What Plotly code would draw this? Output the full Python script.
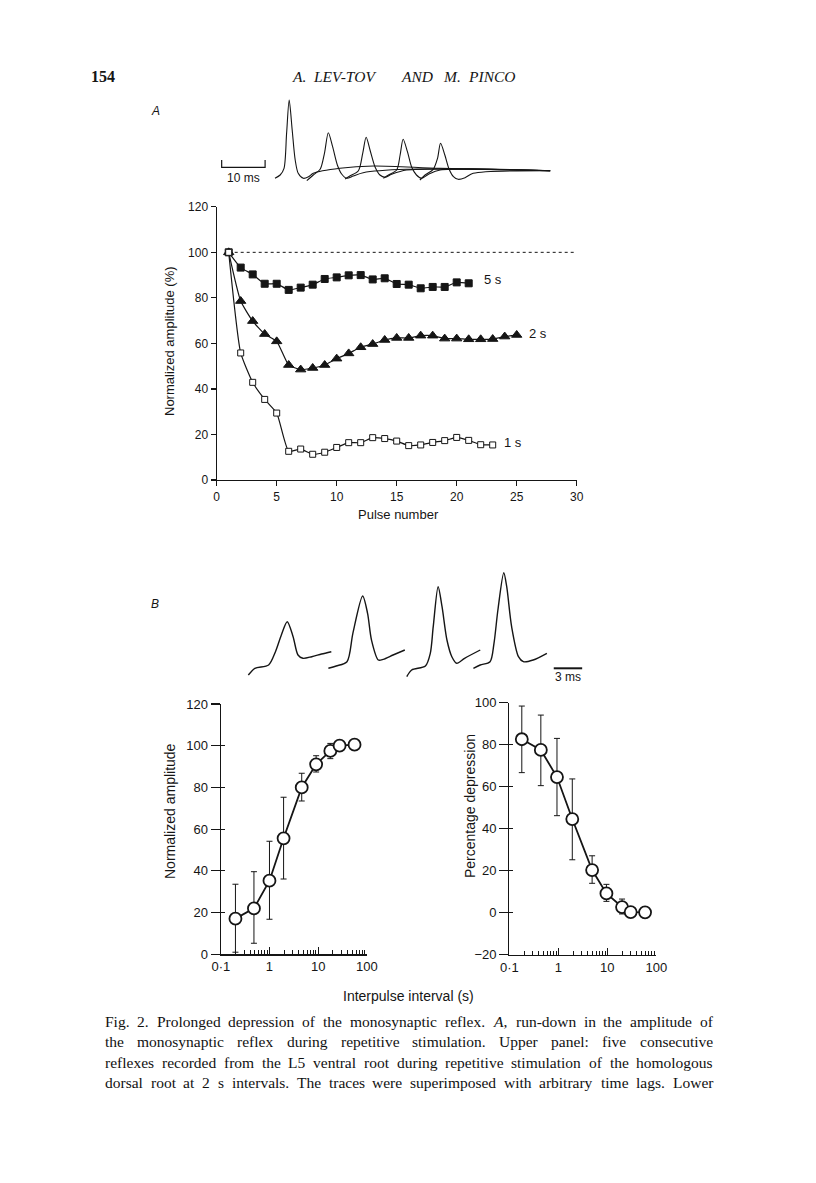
import plotly.graph_objects as go

W, H = 816, 1183

# ---------------- Panel A data (pulse number vs normalized amplitude %) ----------------
pulse_5s = list(range(1, 22))
amp_5s = [100, 93.3, 90.3, 86.2, 86.2, 83.5, 84.5, 85.8, 88.3, 89.0, 89.9, 90.0,
          88.1, 88.6, 86.1, 85.8, 84.2, 84.8, 84.8, 86.8, 86.4]
pulse_2s = list(range(1, 26))
amp_2s = [100, 78.6, 69.8, 64.1, 60.9, 50.5, 48.5, 49.2, 50.5, 53.3, 55.6, 58.3,
          59.7, 61.5, 62.4, 62.4, 63.4, 63.4, 62.1, 62.1, 61.8, 61.8, 61.9, 63.0, 63.7]
pulse_1s = list(range(1, 24))
amp_1s = [100, 55.8, 42.9, 35.4, 29.4, 12.6, 13.6, 11.3, 12.2, 14.3, 16.4, 16.4,
          18.6, 18.2, 17.1, 15.1, 15.4, 16.5, 17.3, 18.7, 17.4, 15.5, 15.4]
ref_level = 100
ref_span = [1, 30]
a_xticks = [0, 5, 10, 15, 20, 25, 30]
a_yticks = [0, 20, 40, 60, 80, 100, 120]
series_labels = ["5 s", "2 s", "1 s"]
series_label_x = [23.05, 26.8, 24.7]
series_label_y = [88.1, 64.4, 16.6]

# ---------------- Panel B data (interpulse interval) ----------------
interval_left = [0.2, 0.48, 1.0, 1.95, 4.6, 9.1, 17.8, 27.6, 56]
amp_left = [17.1, 22.0, 35.3, 55.6, 80.0, 91.1, 97.5, 100.0, 100.5]
amp_left_hi = [33.6, 39.6, 54.2, 75.3, 86.8, 95.2, 101.1, 100.0, 100.5]
amp_left_lo = [1.0, 5.3, 16.8, 36.1, 73.5, 87.4, 93.8, 100.0, 100.5]

interval_right = [0.18, 0.44, 0.94, 1.93, 4.9, 9.6, 20, 30, 59]
dep_right = [82.6, 77.5, 64.6, 44.6, 20.3, 9.2, 2.7, 0.3, 0.2]
dep_hi = [98.4, 94.1, 83.0, 63.7, 27.1, 13.5, 6.5, 0.3, 0.2]
dep_lo = [66.7, 60.5, 46.2, 25.2, 14.0, 5.4, -0.6, 0.3, 0.2]

b_xticks = [0.1, 1, 10, 100]
b_xticklabels = ["0·1", "1", "10", "100"]
b_minor = [0.2, 0.3, 0.4, 0.5, 0.6, 0.7, 0.8, 0.9, 2, 3, 4, 5, 6, 7, 8, 9,
           20, 30, 40, 50, 60, 70, 80, 90]
b_left_yticks = [0, 20, 40, 60, 80, 100, 120]
b_right_yticks = [-20, 0, 20, 40, 60, 80, 100]
b_right_yticklabels = ["−20", "0", "20", "40", "60", "80", "100"]

# ---------------- Recorded traces (ms, arbitrary amplitude units) ----------------
trace_a_t = [
    [0.0, 1.2, 2.1, 2.7, 3.3, 4.0, 4.7, 5.4, 6.6, 7.8, 8.9, 15.1, 22.9, 38.4, 64.0],
    [7.4, 8.9, 10.5, 11.5, 12.4, 13.4, 14.5, 15.5, 16.7, 18.2, 20.5, 30.6, 64.0],
    [16.3, 17.4, 19.4, 20.4, 21.2, 22.1, 23.3, 24.4, 25.6, 27.1, 30.6, 64.0],
    [25.2, 26.4, 28.3, 29.1, 29.8, 30.8, 31.8, 32.9, 34.1, 35.7, 38.4, 64.0],
    [33.7, 34.9, 36.8, 37.8, 38.5, 39.5, 40.5, 41.5, 42.6, 44.2, 46.1, 64.0],
]
trace_a_v = [
    [1.7, 5.0, 11.7, 46.7, 80.0, 50.0, 20.0, 6.7, 1.7, 3.3, 6.7, 11.7, 14.0, 11.7, 9.3],
    [-0.7, 5.0, 10.7, 26.7, 47.3, 33.3, 15.0, 6.0, 1.7, 4.0, 7.3, 10.7, 9.3],
    [1.0, 4.0, 9.3, 26.7, 42.7, 30.0, 12.7, 5.0, 2.7, 5.7, 10.0, 9.3],
    [1.7, 5.0, 10.0, 25.0, 40.7, 28.3, 12.7, 5.0, 1.7, 5.7, 10.0, 9.3],
    [0.0, 5.0, 10.7, 21.7, 36.7, 25.0, 10.7, 3.3, 0.7, 2.3, 6.7, 9.3],
]
scale_a_ms = [-12.4, -2.3]      # 10 ms
scale_a_level = [20.0, 12.7]

trace_b_t = [
    [0.03, 0.7, 2.1, 2.8, 3.4, 4.0, 4.6, 5.1, 5.6, 6.5, 7.5, 8.5],
    [8.2, 9.0, 10.1, 10.7, 11.7, 12.2, 12.6, 13.3, 13.8, 14.8, 16.0],
    [16.2, 16.7, 18.1, 18.6, 18.9, 19.4, 19.8, 20.3, 20.8, 21.3, 22.1, 23.7],
    [23.0, 23.7, 24.7, 25.1, 25.5, 26.1, 26.4, 26.9, 27.6, 28.1, 29.1, 30.5],
]
trace_b_v = [
    [5.0, 11.7, 15.0, 28.3, 45.0, 58.3, 43.3, 25.0, 21.7, 23.3, 26.0, 28.3],
    [11.7, 14.0, 18.3, 46.7, 84.0, 66.7, 40.0, 20.0, 20.7, 25.0, 30.0],
    [3.3, 10.0, 14.0, 26.7, 53.3, 93.3, 73.3, 40.0, 23.3, 16.7, 21.7, 30.0],
    [11.7, 15.0, 18.3, 36.7, 70.0, 107.3, 93.3, 53.3, 23.3, 18.3, 20.0, 26.7],
]
scale_b_ms = [31.2, 34.1]       # 3 ms
scale_b_level = 11.7

# ---------------- Text ----------------
header_page = "154"
header_words = ["A.", "LEV-TOV", "AND", "M.", "PINCO"]
header_word_px = [291, 312, 400, 442, 467]
caption_lines = [
    "Fig. 2. Prolonged depression of the monosynaptic reflex. <i>A</i>, run-down in the amplitude of",
    "the monosynaptic reflex during repetitive stimulation. Upper panel: five consecutive",
    "reflexes recorded from the L5 ventral root during repetitive stimulation of the homologous",
    "dorsal root at 2 s intervals. The traces were superimposed with arbitrary time lags. Lower",
]
caption_y_px = [1021, 1041.5, 1062, 1082]
caption_x0, caption_x1 = 104, 712

SANS = "Liberation Sans, Arial, Helvetica, sans-serif"
SERIF = "Liberation Serif, Times New Roman, serif"
INK = "#151515"


def fx(px):
    return px / W


def fy(py):
    return 1 - py / H


fig = go.Figure()

# ---- Panel A plot ----
fig.add_trace(go.Scatter(x=ref_span, y=[ref_level, ref_level], mode="lines",
                         line=dict(color=INK, width=1, dash="dot"),
                         xaxis="x", yaxis="y", hoverinfo="skip"))
a_series = [
    (pulse_5s, amp_5s, "square", 7, INK),
    (pulse_2s, amp_2s, "triangle-up", 9, INK),
    (pulse_1s, amp_1s, "square", 6, "white"),
]
for xs, ys, sym, sz, fill in a_series:
    fig.add_trace(go.Scatter(
        x=xs, y=ys, mode="lines+markers",
        line=dict(color=INK, width=1.2, shape="spline", smoothing=0.5),
        marker=dict(symbol=sym, size=sz, color=fill, line=dict(color=INK, width=1)),
        xaxis="x", yaxis="y", cliponaxis=False))

# ---- Panel B plots ----
fig.add_trace(go.Scatter(
    x=interval_left, y=amp_left, mode="lines+markers",
    line=dict(color=INK, width=1.8),
    marker=dict(symbol="circle", size=12, color="white", line=dict(color=INK, width=1.8)),
    error_y=dict(type="data", symmetric=False,
                 array=[h - m for h, m in zip(amp_left_hi, amp_left)],
                 arrayminus=[m - l for m, l in zip(amp_left, amp_left_lo)],
                 color=INK, thickness=1, width=3),
    xaxis="x2", yaxis="y2", cliponaxis=False))
fig.add_trace(go.Scatter(
    x=interval_right, y=dep_right, mode="lines+markers",
    line=dict(color=INK, width=1.8),
    marker=dict(symbol="circle", size=12, color="white", line=dict(color=INK, width=1.8)),
    error_y=dict(type="data", symmetric=False,
                 array=[h - m for h, m in zip(dep_hi, dep_right)],
                 arrayminus=[m - l for m, l in zip(dep_right, dep_lo)],
                 color=INK, thickness=1, width=3),
    xaxis="x3", yaxis="y3", cliponaxis=False))
# empty traces so the tick-overlay axes are drawn
fig.add_trace(go.Scatter(x=[], y=[], xaxis="x2", yaxis="y6", hoverinfo="skip"))
fig.add_trace(go.Scatter(x=[], y=[], xaxis="x3", yaxis="y7", hoverinfo="skip"))

# ---- Recorded traces A ----
for ts, vs in zip(trace_a_t, trace_a_v):
    fig.add_trace(go.Scatter(x=ts, y=vs, mode="lines",
                             line=dict(color=INK, width=1.1, shape="spline", smoothing=0.8),
                             xaxis="x4", yaxis="y4", hoverinfo="skip"))
fig.add_trace(go.Scatter(
    x=[scale_a_ms[0], scale_a_ms[0], scale_a_ms[1], scale_a_ms[1]],
    y=[scale_a_level[0], scale_a_level[1], scale_a_level[1], scale_a_level[0]],
    mode="lines", line=dict(color=INK, width=1.2), xaxis="x4", yaxis="y4"))

# ---- Recorded traces B ----
for ts, vs in zip(trace_b_t, trace_b_v):
    fig.add_trace(go.Scatter(x=ts, y=vs, mode="lines",
                             line=dict(color=INK, width=1.4, shape="spline", smoothing=0.8),
                             xaxis="x5", yaxis="y5", hoverinfo="skip"))
fig.add_trace(go.Scatter(x=scale_b_ms, y=[scale_b_level, scale_b_level], mode="lines",
                         line=dict(color=INK, width=2), xaxis="x5", yaxis="y5"))

axis_common = dict(showgrid=False, zeroline=False, showline=True, linecolor=INK,
                   linewidth=1.2, tickcolor=INK, tickwidth=1.2, color=INK,
                   automargin=False)

layout = dict(
    template="none",
    width=W, height=H, showlegend=False, autosize=False,
    margin=dict(l=0, r=0, t=0, b=0, pad=0, autoexpand=False),
    paper_bgcolor="white", plot_bgcolor="rgba(0,0,0,0)",
    font=dict(family=SANS, color=INK),
    xaxis=dict(domain=[fx(216.7), fx(576.7)], range=[0, 30], anchor="y",
               tickmode="array", tickvals=a_xticks, ticks="outside", ticklen=5,
               tickfont=dict(size=12), **axis_common),
    yaxis=dict(domain=[fy(480), fy(206.8)], range=[0, 120], anchor="x",
               tickmode="array", tickvals=a_yticks, ticks="outside", ticklen=5,
               tickfont=dict(size=12), **axis_common),
    xaxis2=dict(type="log", domain=[fx(220.8), fx(366.8)], range=[-1, 2], anchor="y2",
                tickmode="array", tickvals=b_xticks, ticktext=b_xticklabels,
                ticks="inside", ticklen=7, tickfont=dict(size=13),
                minor=dict(tickmode="array", tickvals=b_minor, ticks="inside",
                           ticklen=4, tickcolor=INK, tickwidth=1, showgrid=False),
                **axis_common),
    yaxis2=dict(domain=[fy(954.3), fy(704)], range=[0, 120], anchor="x2",
                tickmode="array", tickvals=b_left_yticks, ticks="outside", ticklen=9,
                tickfont=dict(size=13), **axis_common),
    yaxis6=dict(overlaying="y2", anchor="x2", range=[0, 120], tickmode="array",
                tickvals=b_left_yticks, ticks="inside", ticklen=4, tickcolor=INK,
                tickwidth=1.2, showticklabels=False, showline=False, showgrid=False,
                zeroline=False, automargin=False),
    xaxis3=dict(type="log", domain=[fx(509.3), fx(656.3)], range=[-1, 2], anchor="y3",
                tickmode="array", tickvals=b_xticks, ticktext=b_xticklabels,
                ticks="inside", ticklen=7, tickfont=dict(size=13),
                minor=dict(tickmode="array", tickvals=b_minor, ticks="inside",
                           ticklen=4, tickcolor=INK, tickwidth=1, showgrid=False),
                **axis_common),
    yaxis3=dict(domain=[fy(954.7), fy(702.7)], range=[-20, 100], anchor="x3",
                tickmode="array", tickvals=b_right_yticks, ticktext=b_right_yticklabels,
                ticks="outside", ticklen=9, tickfont=dict(size=13), **axis_common),
    yaxis7=dict(overlaying="y3", anchor="x3", range=[-20, 100], tickmode="array",
                tickvals=b_right_yticks, ticks="inside", ticklen=4, tickcolor=INK,
                tickwidth=1.2, showticklabels=False, showline=False, showgrid=False,
                zeroline=False, automargin=False),
    xaxis4=dict(domain=[fx(200), fx(590)], range=[-17.44, 73.26], visible=False,
                anchor="y4", automargin=False),
    yaxis4=dict(domain=[fy(190), fy(90)], range=[-10, 90], visible=False, anchor="x4",
                automargin=False),
    xaxis5=dict(domain=[fx(230), fx(600)], range=[-1.84, 35.92], visible=False,
                anchor="y5", automargin=False),
    yaxis5=dict(domain=[fy(690), fy(560)], range=[-10, 120], visible=False, anchor="x5",
                automargin=False),
)

ann = []


def add_text(text, px, py, size, family=SANS, angle=0, xanchor="center", italic=False,
             bold=False):
    ann.append(dict(text=text, x=fx(px), y=fy(py), xref="paper", yref="paper",
                    showarrow=False, textangle=angle, xanchor=xanchor, yanchor="middle",
                    borderpad=0,
                    font=dict(size=size, family=family, color=INK,
                              style="italic" if italic else "normal",
                              weight="bold" if bold else "normal")))


# axis titles and panel labels
add_text("Normalized amplitude (%)", 170, 341, 13, angle=-90)
add_text("Pulse number", 398, 515, 13)
add_text("Normalized amplitude", 170, 811, 14, angle=-90)
add_text("Percentage depression", 470, 806, 14, angle=-90)
add_text("Interpulse interval (s)", 408, 996, 14)
add_text("A", 155, 111, 12, italic=True)
add_text("B", 155, 604, 12, italic=True)

# series labels in data coordinates
for lab, lx, ly in zip(series_labels, series_label_x, series_label_y):
    ann.append(dict(text=lab, x=lx, y=ly, xref="x", yref="y", showarrow=False,
                    font=dict(size=13, family=SANS, color=INK)))

# scale bar labels
ann.append(dict(text="10 ms", x=(scale_a_ms[0] + scale_a_ms[1]) / 2, y=1.5, xref="x4",
                yref="y4", showarrow=False, font=dict(size=12, family=SANS, color=INK)))
ann.append(dict(text="3 ms", x=(scale_b_ms[0] + scale_b_ms[1]) / 2, y=3, xref="x5",
                yref="y5", showarrow=False, font=dict(size=12, family=SANS, color=INK)))

# header
add_text(header_page, 90, 76, 16, family=SERIF, xanchor="left", bold=True)
for w, px in zip(header_words, header_word_px):
    add_text(w, px, 76, 15.5, family=SERIF, xanchor="left", italic=True)

# caption, justified word by word (Times metrics, per 1000 em)
TW = {' ': 250, '.': 250, ',': 250, ':': 278, '-': 333, '(': 333, ')': 333,
      'a': 444, 'b': 500, 'c': 444, 'd': 500, 'e': 444, 'f': 333, 'g': 500, 'h': 500,
      'i': 278, 'j': 278, 'k': 500, 'l': 278, 'm': 778, 'n': 500, 'o': 500, 'p': 500,
      'q': 500, 'r': 333, 's': 389, 't': 278, 'u': 500, 'v': 500, 'w': 722, 'x': 500,
      'y': 500, 'z': 444, 'A': 722, 'B': 667, 'C': 667, 'D': 722, 'E': 611, 'F': 556,
      'G': 722, 'H': 722, 'I': 333, 'J': 389, 'K': 722, 'L': 611, 'M': 889, 'N': 722,
      'O': 722, 'P': 556, 'Q': 722, 'R': 667, 'S': 556, 'T': 611, 'U': 722, 'V': 722,
      'W': 944, 'X': 722, 'Y': 722, 'Z': 611}


def em_width(word):
    plain = word.replace("<i>", "").replace("</i>", "")
    return sum(TW.get(c, 500) for c in plain) / 1000.0


span = caption_x1 - caption_x0
natural = [sum(em_width(w) for w in ln.split(" ")) + 0.25 * (len(ln.split(" ")) - 1)
           for ln in caption_lines]
cap_size = min(15.5, 0.99 * span / max(natural))
for ln, py in zip(caption_lines, caption_y_px):
    words = ln.split(" ")
    widths = [em_width(w) * cap_size for w in words]
    gap = (span - sum(widths)) / (len(words) - 1)
    xpos = caption_x0
    for w, wd in zip(words, widths):
        ann.append(dict(text=w, x=fx(xpos), y=fy(py), xref="paper", yref="paper",
                        showarrow=False, xanchor="left", yanchor="middle", borderpad=0,
                        font=dict(size=cap_size, family=SERIF, color="#111")))
        xpos += wd + gap

layout["annotations"] = ann
fig.update_layout(**layout)
fig.write_html("out.html",
               config={"displayModeBar": False, "staticPlot": True},
               post_script="document.body.style.margin='0';document.body.style.padding='0';")
